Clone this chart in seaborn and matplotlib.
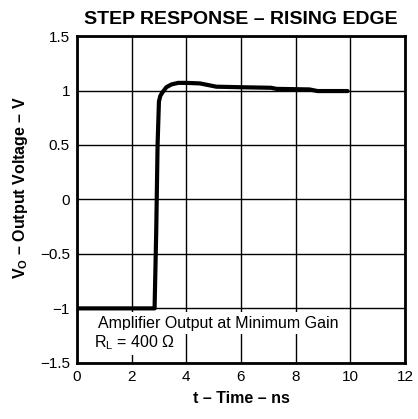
import matplotlib
matplotlib.use("Agg")
import matplotlib.pyplot as plt
import seaborn as sns
import pandas as pd

# Step response trace (rising edge)
time_ns = [0.0, 2.84, 2.90, 2.95, 3.00, 3.05, 3.12, 3.27, 3.45, 3.70, 4.00,
           4.50, 4.80, 5.10, 6.00, 7.10, 7.30, 8.50, 8.80, 9.90]
vout = [-1.0, -1.0, -0.30, 0.50, 0.90, 0.95, 0.98, 1.03, 1.055, 1.07, 1.07,
        1.065, 1.05, 1.035, 1.03, 1.025, 1.015, 1.01, 0.995, 0.995]

x_ticks = [0, 2, 4, 6, 8, 10, 12]
y_ticks = [-1.5, -1, -0.5, 0, 0.5, 1, 1.5]
y_ticklabels = ["\u22121.5", "\u22121", "\u22120.5", "0", "0.5", "1", "1.5"]

df = pd.DataFrame({"t": time_ns, "v": vout})

sns.set_theme(style="white")
plt.rcParams["font.family"] = ["Liberation Sans", "DejaVu Sans"]
plt.rcParams["text.color"] = "black"
plt.rcParams["axes.labelcolor"] = "black"
plt.rcParams["mathtext.fontset"] = "custom"
plt.rcParams["mathtext.rm"] = "Liberation Sans"
plt.rcParams["mathtext.bf"] = "Liberation Sans:bold"

fig = plt.figure(figsize=(4.18, 4.19), dpi=100)
ax = fig.add_axes([0.184, 0.134, 0.785, 0.780])

sns.lineplot(data=df, x="t", y="v", ax=ax, color="black", linewidth=3.0,
             sort=False, estimator=None, zorder=5)

ax.set_xlim(0, 12)
ax.set_ylim(-1.5, 1.5)
ax.set_xticks(x_ticks)
ax.set_xticklabels([str(x) for x in x_ticks])
ax.set_yticks(y_ticks)
ax.set_yticklabels(y_ticklabels)
ax.tick_params(axis="both", labelsize=11, length=0, pad=5, colors="black")

ax.grid(True, color="black", linewidth=1.0)
ax.set_axisbelow(True)
for s in ax.spines.values():
    s.set_visible(True)
    s.set_color("black")
    s.set_linewidth(2.0)

ax.set_title("STEP RESPONSE \u2013 RISING EDGE", fontsize=14, fontweight="bold",
             pad=9, color="black")
ax.set_xlabel("t \u2013 Time \u2013 ns", fontsize=11.5, fontweight="bold", labelpad=5)
ax.set_ylabel("")
fig.text(0.048, 0.553, "V$_\\mathbf{O}$ \u2013 Output Voltage \u2013 V", fontsize=11.5,
         fontweight="bold", rotation=90, ha="center", va="center", color="black")

# Annotation boxes mask the grid behind them
box = dict(facecolor="white", edgecolor="none", boxstyle="square,pad=0.2")
ax.text(0.76, -1.135, "Amplifier Output at Minimum Gain", fontsize=11.5,
        ha="left", va="center", bbox=box, zorder=3, color="black")
ax.text(0.61, -1.315, "R$_\\mathregular{L}$ = 400 \u03a9", fontsize=11.5,
        ha="left", va="center", bbox=box, zorder=3, color="black")

fig.savefig("out.png", dpi=100)
